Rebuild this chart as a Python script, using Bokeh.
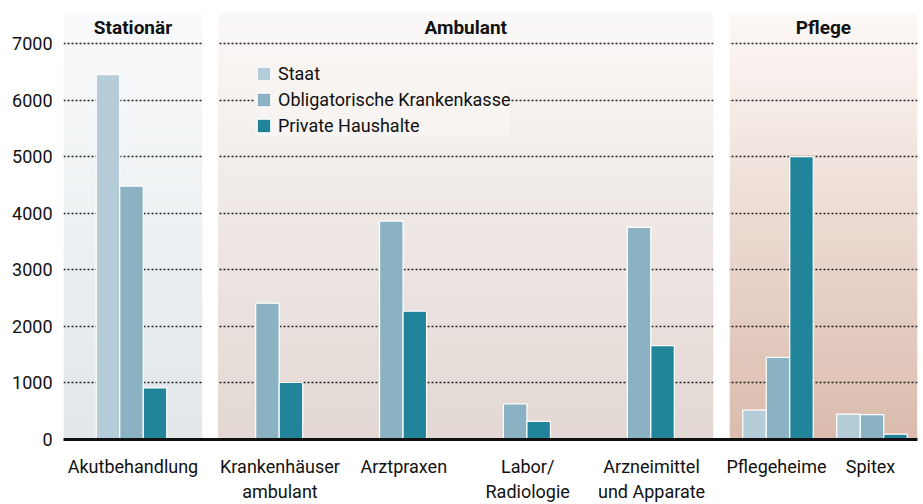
import numpy as np
from bokeh.plotting import figure
from bokeh.models import Range1d, FixedTicker, Legend, LegendItem, Label
from bokeh.embed import file_html
from bokeh.resources import INLINE

# ---------------- data ----------------
panels = ["Stationär", "Ambulant", "Pflege"]
categories = ["Akutbehandlung", "Krankenhäuser ambulant", "Arztpraxen",
              "Labor/ Radiologie", "Arzneimittel und Apparate", "Pflegeheime", "Spitex"]
category_labels = ["Akutbehandlung", "Krankenhäuser\nambulant", "Arztpraxen",
                   "Labor/\nRadiologie", "Arzneimittel\nund Apparate", "Pflegeheime", "Spitex"]
category_panel = [0, 1, 1, 1, 1, 2, 2]
series = ["Staat", "Obligatorische Krankenkasse", "Private Haushalte"]
staat = [6450, 0, 0, 0, 0, 520, 450]
okp = [4480, 2410, 3860, 630, 3750, 1450, 440]
private = [910, 1010, 2270, 320, 1660, 5000, 95]
y_ticks = [0, 1000, 2000, 3000, 4000, 5000, 6000, 7000]

# ---------------- layout / style ----------------
FONT = "Roboto"
series_colors = ["#b5cdd8", "#8ab2c2", "#21849a"]
panel_edges = [(0.0, 139.0), (154.5, 650.0), (666.0, 854.0)]   # frame units
panel_shift = [-1.5, -12.5, 1.5]
panel_top = ["#f9fafb", "#fbf9f8", "#fdf9f7"]
panel_bottom = ["#e3e8eb", "#e3d8d3", "#dbbcad"]
BAR_W = 23.5
Y_END = 7547

def hex2rgb(h):
    h = h.lstrip("#")
    return [int(h[i:i + 2], 16) for i in (0, 2, 4)]

# slot centres for each category
slot_centers = []
group_centers = []
for pi, (x0, x1) in enumerate(panel_edges):
    idx = [i for i, c in enumerate(category_panel) if c == pi]
    w = (x1 - x0) / len(idx)
    for k, i in enumerate(idx):
        c = round(x0 + (k + 0.5) * w, 2)
        slot_centers.append(c)
        group_centers.append(c + panel_shift[pi])

p = figure(width=923, height=504, output_backend="svg", toolbar_location=None,
           x_range=Range1d(0, 854), y_range=Range1d(0, Y_END),
           min_border_left=63, min_border_right=6, min_border_top=12,
           min_border_bottom=64, background_fill_color="white",
           border_fill_color="white", outline_line_color=None)

# gradient backgrounds
for pi, (x0, x1) in enumerate(panel_edges):
    n = 200
    top = np.array(hex2rgb(panel_top[pi]), dtype=float)
    bot = np.array(hex2rgb(panel_bottom[pi]), dtype=float)
    t = np.linspace(0, 1, n)[:, None]       # row 0 = bottom
    cols = bot + (top - bot) * t
    img = np.zeros((n, 1), dtype=np.uint32)
    view = img.view(dtype=np.uint8).reshape((n, 1, 4))
    view[:, 0, 0] = cols[:, 0].astype(np.uint8)
    view[:, 0, 1] = cols[:, 1].astype(np.uint8)
    view[:, 0, 2] = cols[:, 2].astype(np.uint8)
    view[:, 0, 3] = 255
    p.image_rgba(image=[img], x=x0, y=0, dw=x1 - x0, dh=Y_END, level="image")

# white gaps between panels (cover grid lines)
gx0 = [panel_edges[i][1] for i in range(len(panel_edges) - 1)]
gx1 = [panel_edges[i + 1][0] for i in range(len(panel_edges) - 1)]
p.quad(left=gx0, right=gx1, bottom=0, top=Y_END, fill_color="white", line_color=None)

# bars
renderers = []
for si, vals in enumerate([staat, okp, private]):
    xs, hs = [], []
    for ci, v in enumerate(vals):
        if v > 0:
            xs.append(group_centers[ci] + (si - 1) * BAR_W)
            hs.append(v)
    r = p.vbar(x=xs, top=hs, bottom=0, width=BAR_W, fill_color=series_colors[si],
               line_color="white", line_width=1.2)
    renderers.append(r)

# panel titles
for pi, (x0, x1) in enumerate(panel_edges):
    p.add_layout(Label(x=(x0 + x1) / 2, y=7282, text=panels[pi], text_align="center",
                       text_baseline="middle", text_font=FONT, text_font_style="bold",
                       text_font_size="19px", text_color="#111111"))

# legend
legend = Legend(items=[LegendItem(label=series[i], renderers=[renderers[i]]) for i in range(3)],
                location=(192, 303), orientation="vertical",
                background_fill_color="#f7f4f2", background_fill_alpha=1.0,
                border_line_color=None, padding=9, spacing=5,
                glyph_width=17, glyph_height=17, label_standoff=6,
                label_text_font=FONT, label_text_font_size="18px",
                label_text_color="#111111")
p.add_layout(legend)

# axes
p.xaxis.ticker = FixedTicker(ticks=slot_centers)
p.xaxis.major_label_overrides = {slot_centers[i]: category_labels[i] for i in range(len(categories))}
p.xaxis.axis_line_width = 3
p.xaxis.axis_line_color = "#111111"
p.xaxis.major_tick_line_color = None
p.xaxis.major_tick_out = 0
p.xaxis.major_tick_in = 0
p.xaxis.minor_tick_line_color = None
p.xaxis.minor_tick_out = 0
p.xaxis.major_label_text_font = FONT
p.xaxis.major_label_text_font_size = "18px"
p.xaxis.major_label_text_color = "#111111"
p.xaxis.major_label_standoff = 16
p.xaxis.major_label_text_line_height = 1.2

p.yaxis.ticker = FixedTicker(ticks=y_ticks)
p.yaxis.axis_line_color = None
p.yaxis.major_tick_line_color = None
p.yaxis.major_tick_out = 0
p.yaxis.major_tick_in = 0
p.yaxis.minor_tick_line_color = None
p.yaxis.minor_tick_out = 0
p.yaxis.major_label_text_font = FONT
p.yaxis.major_label_text_font_size = "18px"
p.yaxis.major_label_text_color = "#111111"
p.yaxis.major_label_standoff = 11

p.xgrid.grid_line_color = None
p.ygrid.grid_line_color = "#222222"
p.ygrid.grid_line_dash = "2 2"
p.ygrid.grid_line_width = 1.3

open("out.html", "w").write(file_html(p, INLINE))
